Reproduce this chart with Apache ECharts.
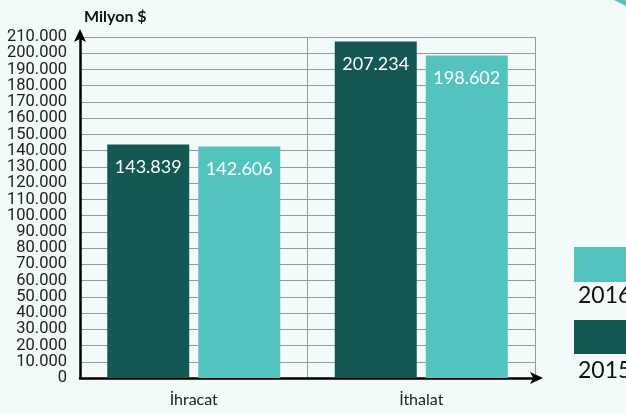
<!DOCTYPE html>
<html><head><meta charset="utf-8">
<script src="https://cdn.jsdelivr.net/npm/echarts@6/dist/echarts.min.js"></script>
<style>html,body{margin:0;padding:0;background:#f3fafa;}#c{width:626px;height:414px;}</style>
</head><body><div id="c"></div>
<script>
const categories = ['İhracat', 'İthalat'];
const values2015 = [143839, 207234];
const values2016 = [142606, 198602];
const seriesNames = ['2015', '2016'];
const yMin = 0, yMax = 210000, yInterval = 10000;

const dark = '#145753', light = '#52c4bd';
const fmt = v => v === 0 ? '0' : String(v).replace(/\B(?=(\d{3})+(?!\d))/g, '.');
const yLabelStyle = { fontFamily: 'Roboto', fontSize: 16.5, color: '#222', margin: 13, formatter: fmt, hideOverlap: false };

const chart = echarts.init(document.getElementById('c'));
const labelCfg = {
  show: true, position: 'insideTop', distance: 14, color: '#ffffff',
  fontFamily: 'Lato', fontSize: 18, formatter: p => fmt(p.value)
};
chart.setOption({
  backgroundColor: '#f3fafa',
  animation: false,
  title: { text: 'Milyon $', left: 79, top: 4, textStyle: { fontFamily: 'Lato', fontWeight: 'bold', fontSize: 16, color: '#111' } },
  grid: { left: 80, right: 91, top: 37, bottom: 36, containLabel: false, outerBoundsMode: 'none' },
  xAxis: {
    type: 'category', data: categories,
    axisLine: { show: true, lineStyle: { color: '#000', width: 2.5 }, symbol: ['none', 'arrow'], symbolSize: [9, 13], symbolOffset: [0, 8] },
    axisTick: { show: false },
    axisLabel: { fontFamily: 'Lato', fontSize: 16, color: '#222', margin: 14 },
    splitLine: { show: true, lineStyle: { color: '#999', width: 1 } }
  },
  yAxis: [{
    type: 'value', position: 'left', min: yMin, max: yMax, interval: yInterval,
    axisLine: { show: true, lineStyle: { color: '#000', width: 2.5 }, symbol: ['none', 'arrow'], symbolSize: [9, 13], symbolOffset: [0, 8] },
    axisTick: { show: false },
    axisLabel: Object.assign({}, yLabelStyle, { showMinLabel: false, showMaxLabel: false }),
    splitLine: { show: true, lineStyle: { color: '#999', width: 1 } }
  }, {
    type: 'value', position: 'left', offset: 0, min: yMin, max: yMax, interval: yMax - yMin,
    axisLine: { show: false }, axisTick: { show: false }, splitLine: { show: false },
    axisLabel: Object.assign({}, yLabelStyle, { showMinLabel: true, showMaxLabel: true })
  }],
  series: [
    { name: seriesNames[0], type: 'bar', data: values2015, barWidth: 82, barGap: '11%', itemStyle: { color: dark }, label: labelCfg },
    { name: seriesNames[1], type: 'bar', data: values2016, barWidth: 82, itemStyle: { color: light }, label: labelCfg }
  ],
  graphic: [
    { type: 'polygon', shape: { points: [[614, 0], [626, 0], [626, 6]] }, style: { fill: light } },
    { type: 'rect', shape: { x: 574, y: 247, width: 60, height: 35 }, style: { fill: light } },
    { type: 'text', left: 578, top: 284, style: { text: seriesNames[1], font: '23px Lato', fill: '#111' } },
    { type: 'rect', shape: { x: 574, y: 320, width: 60, height: 34 }, style: { fill: dark } },
    { type: 'text', left: 578, top: 359, style: { text: seriesNames[0], font: '23px Lato', fill: '#111' } }
  ]
});
</script></body></html>
